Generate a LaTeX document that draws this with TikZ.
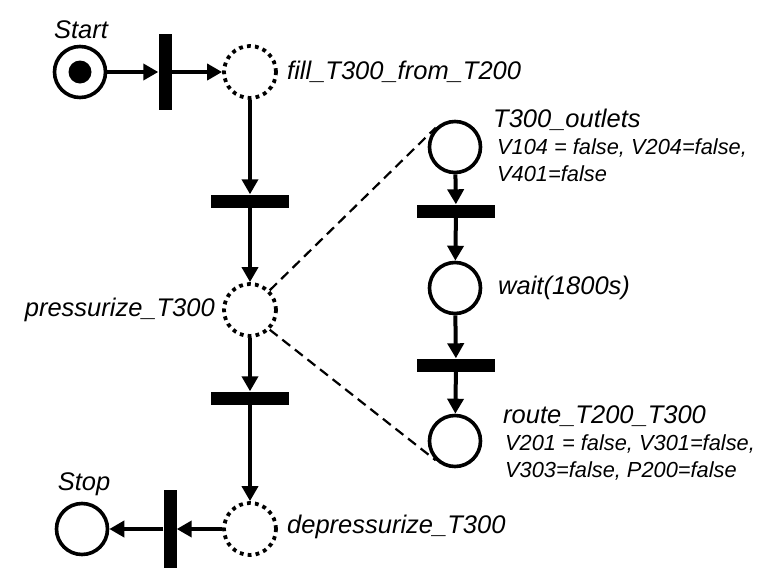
\documentclass[tikz,border=0pt]{standalone}
\usepackage{fontspec}
\setmainfont{Liberation Sans}
\usetikzlibrary{arrows.meta}
\begin{document}
\begin{tikzpicture}[x=1pt,y=-1pt,
  place/.style={circle,draw,line width=3.6pt,minimum size=51pt,inner sep=0pt},
  vplace/.style={circle,draw,line width=3.8pt,dash pattern=on 3.8pt off 4.2pt,minimum size=52pt,inner sep=0pt},
  token/.style={circle,fill,minimum size=23pt,inner sep=0pt},
  htrans/.style={rectangle,fill,minimum width=78pt,minimum height=13pt,inner sep=0pt},
  vtrans/.style={rectangle,fill,minimum width=13pt,minimum height=76pt,inner sep=0pt},
  arr/.style={line width=4pt,-{Triangle[length=15pt,width=16pt]}},
  link/.style={line width=2.2pt,dash pattern=on 10pt off 6pt},
  lbl/.style={inner sep=0pt,font=\fontsize{25.5}{29}\selectfont\itshape},
  sub/.style={inner sep=0pt,anchor=west,font=\fontsize{21.8}{25}\selectfont\itshape}]
\useasboundingbox (0,0) rectangle (777,584);
% places and transitions
\node[place] (start) at (80,72) {};
\node[token] (tok) at (start) {};
\node[vtrans] (t1) at (165,72) {};
\node[vplace] (fill) at (250,72) {};
\node[htrans] (t2) at (250,201) {};
\node[vplace] (press) at (250,310) {};
\node[htrans] (t3) at (250,398) {};
\node[vplace] (depress) at (250,529) {};
\node[vtrans,minimum height=78pt] (t4) at (170,529) {};
\node[place] (stop) at (82,529) {};
\node[place] (outlets) at (455,147) {};
\node[htrans] (t5) at (456,211) {};
\node[place] (wait) at (455,288) {};
\node[htrans] (t6) at (456,365) {};
\node[place] (route) at (455,441) {};
% labels
\node[lbl] (lstart) at (81,30) {Start};
\node[lbl] (lstop) at (84,484) {Stop};
\node[lbl,anchor=west] (lfill) at (287,72) {fill\_T300\_from\_T200};
\node[lbl,anchor=east] (lpress) at (215,310) {pressurize\_T300};
\node[lbl,anchor=west] (ldep) at (287,527) {depressurize\_T300};
\node[lbl,anchor=west] (lout) at (493,120) {T300\_outlets};
\node[sub] (lout1) at (497,148) {V104 = false, V204=false,};
\node[sub] (lout2) at (497,174) {V401=false};
\node[lbl,anchor=west] (lwait) at (498,288) {wait(1800s)};
\node[lbl,anchor=west] (lroute) at (503,416) {route\_T200\_T300};
\node[sub] (lroute1) at (505,444) {V201 = false, V301=false,};
\node[sub] (lroute2) at (505,471) {V303=false, P200=false};
% arcs
\draw[arr] (start) -- (t1);
\draw[arr] (t1) -- (fill);
\draw[arr] (fill) -- (t2);
\draw[arr] (t2) -- (press);
\draw[arr] (press) -- (t3);
\draw[arr] (t3) -- (depress);
\draw[arr] (depress) -- (t4);
\draw[arr] (t4) -- (stop);
\draw[arr] (outlets) -- (t5);
\draw[arr] (t5) -- (wait);
\draw[arr] (wait) -- (t6);
\draw[arr] (t6) -- (route);
% refinement links
\draw[link] (press.45) -- (outlets.135);
\draw[link] (press.-45) -- (route.225);
\end{tikzpicture}
\end{document}
